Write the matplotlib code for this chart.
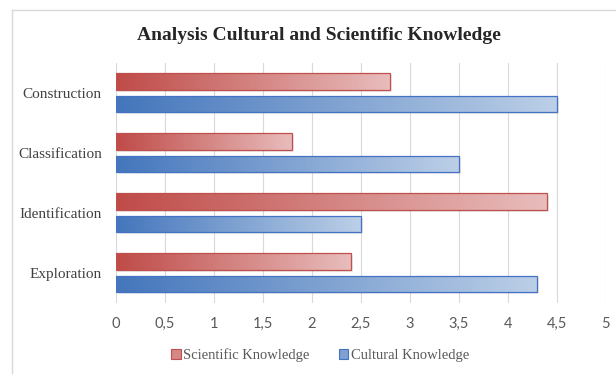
import numpy as np
import matplotlib
matplotlib.use("Agg")
import matplotlib.pyplot as plt
from matplotlib.colors import LinearSegmentedColormap
from matplotlib.lines import Line2D
from matplotlib.patches import Rectangle
from matplotlib.ticker import FuncFormatter

# data (bottom to top)
categories = ["Exploration", "Identification", "Classification", "Construction"]
scientific = [2.4, 4.4, 1.8, 2.8]
cultural = [4.3, 2.5, 3.5, 4.5]
series_names = ["Scientific Knowledge", "Cultural Knowledge"]
x_ticks = [0, 0.5, 1, 1.5, 2, 2.5, 3, 3.5, 4, 4.5, 5]

red_cmap = LinearSegmentedColormap.from_list("red_grad", ["#BF4B48", "#E8BDBC"])
blue_cmap = LinearSegmentedColormap.from_list("blue_grad", ["#4476BC", "#BCCFE7"])
red_edge = "#C0504D"
blue_edge = "#4472C4"

serif = ["Liberation Serif", "DejaVu Serif"]
sans = ["Lato", "DejaVu Sans"]

fig = plt.figure(figsize=(6.16, 3.74), dpi=100)
ax = fig.add_axes([0.188, 0.19, 0.795, 0.642])

# light border of the chart area (only top and left visible in crop)
fig.add_artist(Line2D([11.5 / 616, 1], [1 - 10 / 374, 1 - 10 / 374],
                      transform=fig.transFigure, color="#D9D9D9", lw=1))
fig.add_artist(Line2D([11.5 / 616, 11.5 / 616], [0, 1 - 10 / 374],
                      transform=fig.transFigure, color="#D9D9D9", lw=1))

y = np.arange(len(categories))
h = 0.275
off = 0.1875

grad = np.linspace(0, 1, 256).reshape(1, -1)


def gradient_bars(bars, cmap):
    for b in bars:
        x0, y0 = b.get_x(), b.get_y()
        w, hh = b.get_width(), b.get_height()
        # soft shadow
        ax.add_patch(Rectangle((x0 + 0.02, y0 - 0.03), w, hh, facecolor="#000000",
                               alpha=0.08, edgecolor="none", zorder=2))
        im = ax.imshow(grad, cmap=cmap, aspect="auto", extent=(x0, x0 + w, y0, y0 + hh),
                       zorder=3, interpolation="bicubic")
        im.set_clip_path(b)


bars_s = ax.barh(y + off, scientific, height=h, facecolor="none", edgecolor=red_edge,
                 linewidth=0.9, zorder=4)
bars_c = ax.barh(y - off, cultural, height=h, facecolor="none", edgecolor=blue_edge,
                 linewidth=0.9, zorder=4)
gradient_bars(bars_s, red_cmap)
gradient_bars(bars_c, blue_cmap)

ax.set_xlim(0, 5)
ax.set_ylim(-0.5, 3.5)
ax.set_xticks(x_ticks)
ax.xaxis.set_major_formatter(FuncFormatter(lambda v, p: f"{v:g}".replace(".", ",")))
ax.set_yticks(y)
ax.set_yticklabels(categories, fontfamily=serif, fontsize=11, color="#404040")
for lab in ax.get_xticklabels():
    lab.set_fontfamily(sans)
    lab.set_fontsize(10.5)
    lab.set_color("#595959")
ax.tick_params(axis="x", length=0, pad=10)
ax.tick_params(axis="y", length=0, pad=10)
ax.grid(axis="x", color="#D9D9D9", linewidth=0.8, zorder=0)
ax.set_axisbelow(True)
for s in ax.spines.values():
    s.set_visible(False)

fig.text(0.517, 0.905, "Analysis Cultural and Scientific Knowledge", ha="center", va="center",
         fontfamily=serif, fontweight="bold", fontsize=14, color="#262626")

handles = [Rectangle((0, 0), 1, 1, facecolor="#D58886", edgecolor=red_edge, lw=0.8),
           Rectangle((0, 0), 1, 1, facecolor="#7FA0D0", edgecolor=blue_edge, lw=0.8)]
fig.legend(handles, series_names, loc="center", bbox_to_anchor=(0.52, 0.05), ncol=2,
           frameon=False, handlelength=0.65, handleheight=0.65, handletextpad=0.2,
           columnspacing=2.0, prop={"family": serif, "size": 10.5}, labelcolor="#595959")

fig.savefig("out.png", dpi=100)
